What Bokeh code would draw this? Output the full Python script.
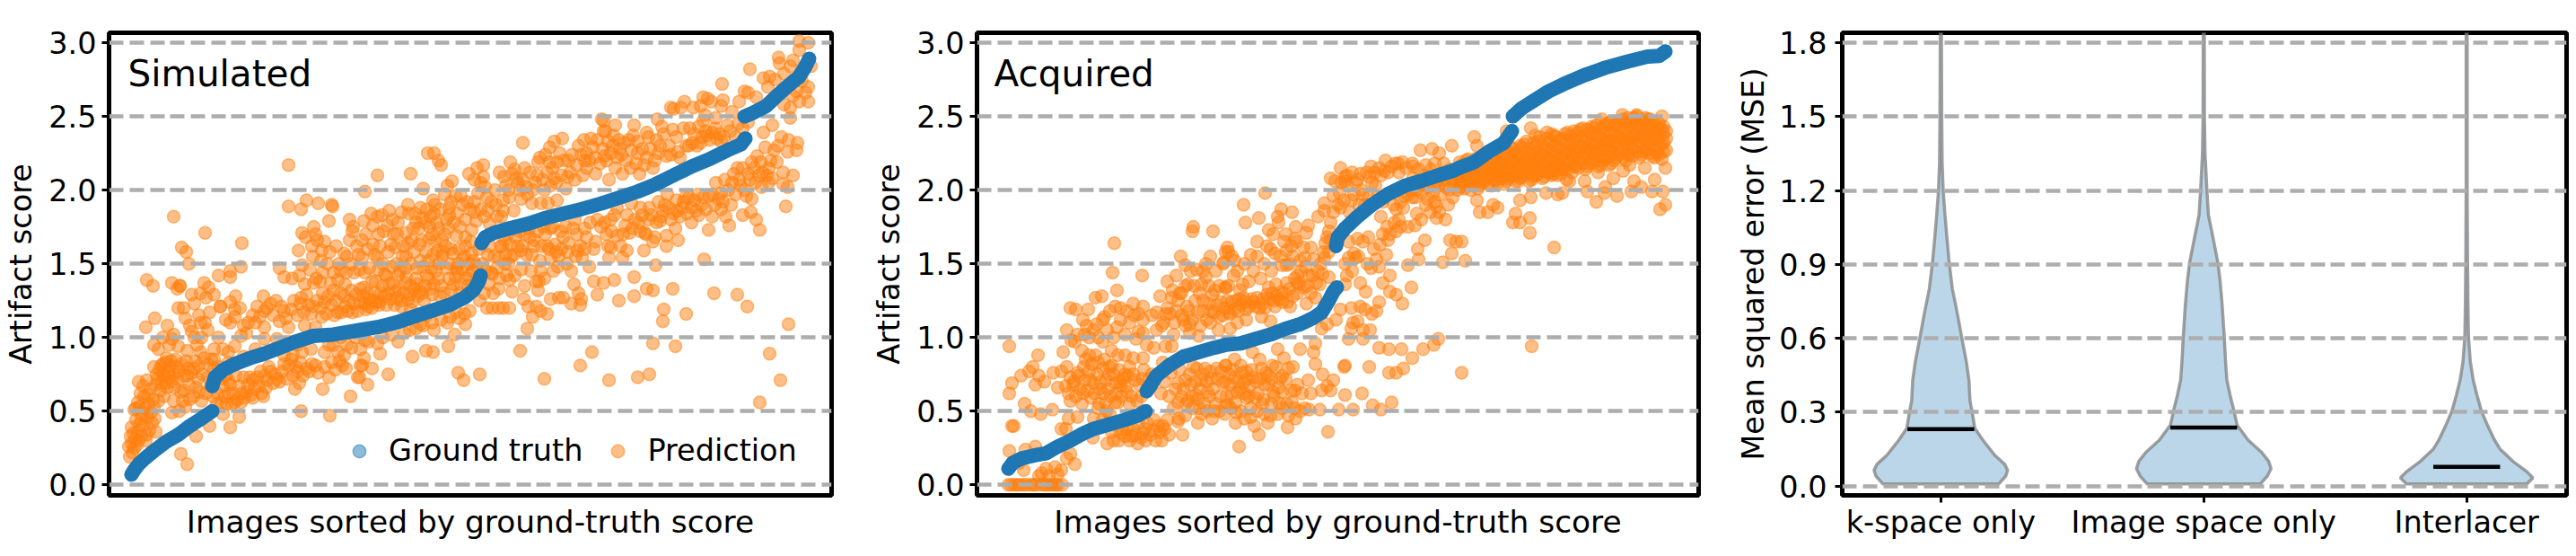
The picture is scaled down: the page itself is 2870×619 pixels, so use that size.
from bokeh.embed import file_html
from bokeh.resources import INLINE
from bokeh.plotting import figure
from bokeh.layouts import row
from bokeh.models import FixedTicker, Legend, LegendItem, Label, Range1d

score_ticks = [0.0, 0.5, 1.0, 1.5, 2.0, 2.5, 3.0]
score_labels = ["0.0", "0.5", "1.0", "1.5", "2.0", "2.5", "3.0"]
mse_ticks = [0.0, 0.3, 0.6, 0.9, 1.2, 1.5, 1.8]
mse_labels = ["0.0", "0.3", "0.6", "0.9", "1.2", "1.5", "1.8"]
methods = ["k-space only", "Image space only", "Interlacer"]
method_means = [0.231, 0.2375, 0.078]

# ----- Simulated: ground truth (rank, score), four runs
sim_truth_a = [(25,.07),(28,.10),(33,.14),(40,.18),(50,.23),(63,.29),(77,.34),(90,.40),(103,.45),(115,.50)]
sim_truth_b = [(115,.67),(118,.73),(127,.78),(140,.82),(157,.86),(173,.89),(190,.93),(207,.97),(227,1.01),(250,1.02),(279,1.05),
               (299,1.07),(319,1.10),(339,1.14),(359,1.18),(379,1.22),(396,1.27),(406,1.32),(412,1.38),(414,1.42)]
sim_truth_c = [(415,1.64),(419,1.68),(429,1.71),(446,1.74),(466,1.77),(486,1.81),(506,1.84),(526,1.87),(549,1.91),
               (569,1.95),(589,1.99),(609,2.04),(629,2.10),(649,2.16),(669,2.21),(689,2.27),(704,2.31),(709,2.35)]
sim_truth_d = [(708,2.50),(716,2.52),(732,2.57),(746,2.65),(757,2.71),(769,2.77),(776,2.84),(780,2.89)]

# ----- Simulated: predictions (rank, score)
sim_pred_left = [(72,1.82),(107,1.71),(148,1.64),(200,2.17),(200,1.89),(214,1.87),(220,1.93),(233,1.91),(248,1.90),(249,1.89),(245,1.79),(268,1.80),(272,1.75),(271,1.72),
(215,1.71),(219,1.68),(228,1.75),(230,1.70),(232,1.66),(237,1.59),(227,1.55),(211,1.59),(215,1.49),(265,1.55),(278,1.56),(81,1.61),(86,1.58),(89,1.50),(42,1.39),(49,1.35),
(70,1.37),(79,1.35),(79,1.35),(76,1.33),(106,1.37),(111,1.34),(122,1.42),(135,1.45),(135,1.41),(147,1.48),(190,1.47),(195,1.41),(204,1.40),(92,1.29),(102,1.30),(108,1.27),(117,1.29),
(95,1.23),(77,1.20),(83,1.20),(124,1.21),(124,1.21),(135,1.24),(141,1.28),(140,1.19),(146,1.20),(112,1.17),(41,1.07),(51,1.13),(90,1.08),(102,1.10),(107,1.10),(92,1.04),(72,1.02),(122,1.00),
(55,.92),(67,.95),(77,.94),(87,.91),(98,.95),(102,.90),(117,.92),(133,.90),
(23,.19),(25,.28),(28,.25),(25,.39),(28,.51),(30,.44),(32,.36),(33,.30),(37,.48),(38,.40),(42,.34),(43,.46),(48,.42),(52,.36),(35,.62),(33,.70),(32,.56),(38,.67),(42,.71),(43,.61),(50,.53),(52,.68),
(53,.75),(50,.80),(58,.81),(63,.83),(68,.81),(75,.80),(60,.75),(67,.73),(72,.75),(63,.69),(57,.64),(80,.63),(83,.64),(72,.57),(78,.50),(70,.49),(85,.53),(95,.79),(88,.79),(100,.81),(110,.82),(117,.79),
(87,.74),(97,.66),(103,.57),(112,.40),(97,.33),(135,.39),(80,.21),(87,.14),(145,.46),(127,.48),(113,.67),
(127,.67),(133,.71),(133,.62),(140,.56),(145,.67),(150,.73),(153,.63),(160,.71),(160,.59),(167,.67),(172,.60),(173,.74),(180,.77),(183,.69),(193,.77),(120,.55),(125,.56),(137,.55),(147,.56),
(207,.65),(212,.69),(238,.65),(269,.60),(214,.50),(246,.47),(200,.81),(210,.77),(203,.85),(213,.83),(223,.77),(230,.81),(245,.73),(248,.83),(257,.84),(260,.81),(277,.73),(280,.81),
(165,1.21),(172,1.28),(180,1.23),(173,1.18),(163,1.10),(173,1.07),(190,1.11),(200,1.07),(192,1.21),(203,1.19),(213,1.23),(220,1.29),(228,1.37),(235,1.38),(247,1.37),(255,1.39),(263,1.36),(270,1.32),
(217,1.17),(227,1.21),(237,1.14),(240,1.24),(248,1.22),(255,1.17),(263,1.21),(273,1.23),(280,1.33),(230,1.07),(147,1.01),(153,1.03),(173,.99),(187,.99),(127,.92),(140,.94),(150,.87),(163,.92),(117,.85),(133,.83),(103,1.00),(70,.99)]
sim_pred_mid = [(299,2.10),(336,2.11),(355,2.25),(362,2.25),(367,2.20),(370,2.17),(285,1.99),(350,2.01),(382,2.06),(377,2.03),(401,2.11),(410,2.15),(417,2.17),(407,2.07),(417,2.09),(414,2.05),(419,2.02),
(461,2.32),(491,2.29),(496,2.33),(505,2.35),(486,2.24),(478,2.19),(491,2.19),(499,2.19),(512,2.20),(529,2.34),(526,2.24),(532,2.25),(539,2.29),(549,2.48),(551,2.40),
(477,2.10),(452,2.14),(449,2.11),(461,2.07),(456,2.05),(442,2.03),(496,2.08),(492,2.03),(511,2.09),(519,2.07),(509,2.01),(532,2.15),(542,2.11),
(292,1.84),(299,1.82),(304,1.83),(284,1.79),(294,1.76),(286,1.70),(312,1.86),(326,1.85),(333,1.90),(347,1.88),(349,1.81),(361,1.93),(362,1.84),(374,1.97),(379,1.88),(386,1.96),(394,1.90),(407,1.92),(421,1.95),(422,1.86),(432,1.82),
(379,1.83),(342,1.78),(339,1.74),(357,1.75),(367,1.74),(374,1.70),(397,1.80),(407,1.85),(321,1.70),(331,1.71),(357,1.67),(387,1.69),(397,1.68),(314,1.63),(319,1.61),(294,1.63),(299,1.54),(331,1.55),
(366,1.59),(381,1.60),(347,1.52),(361,1.56),(372,1.58),(396,1.55),(404,1.57),(389,1.50),(282,1.54),
(439,1.93),(446,1.95),(459,1.94),(466,1.97),(471,1.91),(481,1.91),(489,1.91),(499,1.93),(439,1.86),(451,1.86),(519,1.80),(532,1.68),(542,1.65),(506,1.68),(512,1.64),(522,1.59),(527,1.54),(501,1.55),(492,1.54),(500,1.48),
(469,1.68),(471,1.56),(459,1.59),(451,1.56),(442,1.57),(434,1.54),(441,1.50),(422,1.56),(486,1.70),(492,1.74),
(307,1.43),(297,1.38),(284,1.34),(312,1.36),(322,1.42),(331,1.41),(342,1.40),(319,1.31),(307,1.28),(294,1.25),(286,1.19),(301,1.24),(326,1.21),(336,1.35),(344,1.28),(356,1.40),(362,1.36),(367,1.40),(351,1.25),(369,1.28),
(386,1.41),(392,1.36),(381,1.32),(402,1.50),(394,1.53),(426,1.44),(434,1.33),(446,1.39),(449,1.31),(434,1.20),(421,1.20),(427,1.20),(439,1.20),(446,1.20),(402,1.18),(396,1.16),(387,1.17),(427,1.43),
(481,1.45),(479,1.38),(478,1.32),(518,1.36),(523,1.30),(526,1.26),(492,1.26),(501,1.27),(506,1.27),(515,1.23),(525,1.22),(462,1.26),(467,1.21),(476,1.21),(481,1.18),(488,1.16),(472,1.14),(540,1.38),(544,1.29),
(466,1.06),(458,.91),(538,.90),(525,.81),(485,.72),(413,.75),(389,.76),(395,.71),(378,.94),(385,1.02),(397,1.09),(377,1.10),(362,1.05),(353,.91),(361,.90),(338,.87),(311,.75),(293,.79),(302,.89),(288,.68),(284,.86),(282,.81),(279,.73),
(289,.97),(299,.96),(322,.97),(329,1.03),(342,1.06),(347,1.09),(289,1.21),(301,1.22),(336,1.19),(354,1.15)]
sim_pred_right = [(714,2.82),(683,2.72),(729,2.76),(746,2.90),(747,2.86),(762,2.88),(769,3.01),(779,3.00),(769,2.95),(782,2.84),(736,2.77),(742,2.75),(752,2.79),(734,2.70),(759,2.84),(772,2.74),(779,2.70),(779,2.60),(769,2.60),(759,2.56),(759,2.49),(752,2.58),(762,2.64),(776,2.66),(766,2.67),
(708,2.67),(712,2.66),(721,2.63),(702,2.60),(694,2.53),(684,2.61),(682,2.57),(662,2.63),(667,2.62),(671,2.60),(641,2.60),(626,2.56),(629,2.55),(637,2.56),(651,2.56),(659,2.57),(664,2.51),(676,2.49),
(611,2.48),(616,2.43),(628,2.41),(585,2.44),(564,2.44),(553,2.40),(551,2.47),(599,2.39),(601,2.36),(647,2.42),(657,2.43),(662,2.47),(672,2.39),(677,2.35),(689,2.44),(666,2.37),(682,2.33),(646,2.30),(659,2.32),(568,2.34),(579,2.34),(589,2.33),(589,2.25),(561,2.30),(571,2.24),(599,2.22),(612,2.25),(624,2.30),(621,2.23),(636,2.22),(552,2.23),(564,2.15),(581,2.15),(572,2.11),(591,2.11),(606,2.15),(557,2.07),
(739,2.44),(729,2.39),(749,2.36),(757,2.34),(767,2.32),(756,2.26),(766,2.27),(744,2.19),(751,2.12),(762,2.10),(739,2.08),(751,2.04),(756,2.02),(754,1.89),
(722,2.23),(731,2.29),(716,2.19),(706,2.15),(696,2.11),(686,2.07),(712,2.11),(719,2.15),(726,2.19),(676,2.05),(702,2.07),(716,1.94),(727,2.02),
(642,1.95),(632,1.93),(652,1.93),(662,1.95),(672,1.97),(682,1.98),(622,1.97),(617,1.86),(629,1.84),(639,1.88),(649,1.88),(602,1.88),(592,1.88),(582,1.91),(566,1.88),(577,1.83),(559,1.80),(601,1.80),(614,1.79),(657,1.83),(649,1.78),(631,1.74),(672,1.82),(682,1.87),(687,1.82),(693,1.90),(668,1.73),(691,1.76),(706,1.83),(715,1.85),(721,1.80),(725,1.73),
(566,1.69),(580,1.71),(592,1.72),(597,1.71),(608,1.68),(606,1.65),(621,1.69),(634,1.66),(621,1.62),(559,1.61),(577,1.59),(596,1.59),(572,1.54),(557,1.54),(554,1.70),
(609,1.49),(663,1.53),(585,1.41),(563,1.39),(551,1.37),(599,1.33),(606,1.32),(628,1.33),(585,1.28),(568,1.25),(674,1.30),(700,1.29),(711,1.21),(618,1.19),(617,1.11),(643,1.16),(757,1.09),(606,.96),(631,.94),(736,.89),(602,.75),(589,.73),(557,.71),(748,.71),(725,.56)]
sim_pred_dense_low = [(22,.26),(24,.33),(26,.22),(27,.35),(29,.31),(30,.52),(31,.27),(34,.41),(34,.53),(36,.45),(36,.33),(39,.60),(40,.52),(41,.30),(44,.55),(45,.37),(46,.65),(47,.49),(49,.58),(51,.45),(54,.72),(55,.57),(56,.78),(58,.69),(60,.82),(61,.60),(62,.74),(64,.86),(65,.66),(66,.77),(69,.84),(70,.70),(73,.66),(74,.85),(76,.72),(78,.77),(81,.82),(82,.57),(84,.74),(86,.84),(89,.68),(90,.58),(92,.76),(94,.60),(96,.84),(99,.72),(101,.63),(104,.75),(106,.86),(108,.62),(110,.73),(114,.85),(116,.60),(118,.72),(121,.62),(122,.80),(125,.72),(129,.60),(130,.74),(131,.55),(135,.68),(138,.62),(141,.74),(143,.58),(148,.62),(151,.59),(155,.68),(157,.73),(158,.61),(162,.65),(165,.73),(169,.77),(170,.62),(175,.66),(176,.71),(178,.80),(185,.75),(187,.72),(190,.70),(195,.82),(198,.72),(205,.74),(208,.80),(216,.74),(220,.79),(226,.82),(233,.76),(240,.80),(252,.78),(264,.79)]
sim_pred_dense_mid = [(150,1.08),(155,1.10),(160,1.15),(168,1.14),(176,1.20),(183,1.15),(186,1.25),(195,1.18),(197,1.13),(206,1.25),(210,1.15),(214,1.27),(218,1.08),(222,1.22),(225,1.16),(232,1.25),(236,1.20),(238,1.30),(242,1.16),(244,1.28),(250,1.32),(251,1.15),(253,1.25),(258,1.30),(259,1.17),(262,1.28),(266,1.18),(268,1.25),(271,1.17),(275,1.29),(277,1.18),(280,1.24),(283,1.28),(285,1.23),(288,1.30),(290,1.26),(293,1.20),(296,1.30),(298,1.24),(303,1.30),(305,1.35),(309,1.22),(311,1.30),(314,1.26),(316,1.37),(318,1.22),(321,1.27),(323,1.33),(325,1.25),(328,1.30),(330,1.37),(333,1.26),(335,1.29),(338,1.24),(340,1.33),(343,1.36),(346,1.31),(349,1.30),(352,1.35),(354,1.42),(358,1.33),(360,1.29),(364,1.45),(370,1.35),(373,1.30),(376,1.47),(379,1.40),(384,1.36),(388,1.45),(391,1.30),(398,1.40),(400,1.35),(405,1.45),(409,1.49),(413,1.25),(416,1.50),(418,1.30),(423,1.36)]
sim_pred_dense_high = [(300,1.70),(306,1.72),(310,1.76),(316,1.80),(322,1.78),(328,1.62),(334,1.84),(337,1.66),(341,1.84),(345,1.74),(348,1.66),(352,1.78),(354,1.87),(358,1.82),(360,1.70),(363,1.90),(365,1.78),(369,1.87),(371,1.66),(376,1.80),(378,1.74),(381,1.92),(384,1.78),(388,1.84),(391,1.75),(392,1.96),(399,1.92),(402,1.87),(404,1.73),(409,1.79),(411,1.98),(414,1.87),(418,1.82),(424,1.77),(426,1.92),(429,1.55),(431,1.90),(436,1.62),(437,1.82),(441,1.66),(444,1.70),(447,1.63),(449,1.74),(453,1.68),(457,1.72),(461,1.62),(463,1.70),(468,1.74),(474,1.66),(477,1.72),(482,1.62),(484,1.75),(488,1.62),(494,1.75),(497,1.63),(503,1.72),(508,1.75),(511,1.58),(517,1.74),(521,1.70),(525,1.62),(530,1.74),(536,1.78),(540,1.60),(544,1.80),(548,1.75),(552,1.78),(556,1.62),(560,1.72),(563,1.83),(570,1.62),(573,1.70),(575,1.76),(583,1.74),(586,1.80),(590,1.78),(594,1.83),(598,1.70),(604,1.83),(610,1.78),(612,1.92),(615,1.82),(619,1.90),(624,1.88),(626,1.80),(633,1.86),(636,1.82),(640,1.92),(644,1.84),(646,1.95),(654,1.86),(656,1.97),(660,1.90),(665,1.87),(669,1.96),(675,1.90),(679,1.94),(684,1.92),(690,2.0),(694,2.05),(698,1.97),(704,2.03),(708,2.0),(710,1.96),(714,2.07),(720,2.05),(724,2.1),(728,2.12),(733,2.1),(735,2.15),(737,2.2),(741,2.27),(745,2.3)]
sim_pred_dense_top = [(430,2.0),(435,2.12),(440,2.09),(445,2.0),(447,2.19),(454,2.08),(458,2.0),(463,2.15),(465,2.02),(469,2.12),(472,2.0),(475,2.05),(480,2.22),(483,2.07),(485,2.0),(488,2.12),(494,2.15),(498,2.05),(502,2.25),(504,2.1),(507,2.2),(514,2.12),(516,2.24),(521,2.17),(523,2.3),(528,2.1),(530,2.2),(535,2.2),(537,2.35),(541,2.22),(544,2.34),(547,2.18),(550,2.28),(554,2.2),(556,2.33),(559,2.25),(562,2.37),(566,2.22),(569,2.28),(574,2.32),(576,2.2),(582,2.27),(584,2.37),(587,2.18),(594,2.28),(596,2.17),(603,2.28),(608,2.2),(610,2.34),(614,2.3),(618,2.38),(626,2.24),(632,2.36),(634,2.26),(640,2.42),(643,2.3),(650,2.32),(652,2.38),(655,2.3),(661,2.36),(665,2.4),(669,2.34),(675,2.42),(680,2.38),(685,2.36),(692,2.4),(698,2.36),(701,2.45),(706,2.42),(712,2.46),(735,2.05),(700,2.15)]
sim_pred_fill = [(212,1.42),(218,1.36),(224,1.46),(226,1.62),(231,1.40),(236,1.52),(238,1.44),(240,1.65),(243,1.50),(246,1.58),(250,1.44),(253,1.62),(256,1.50),(258,1.45),(262,1.57),(264,1.44),(268,1.66),(270,1.50),(273,1.44),(276,1.62),(279,1.46),(282,1.66),(285,1.44),(288,1.60),(290,1.47),(293,1.38),(296,1.56),(300,1.46),(302,1.62),(305,1.50),(309,1.42),(311,1.58),(315,1.48),(317,1.70),(320,1.50),(324,1.45),(327,1.55),(330,1.47),(333,1.64),(336,1.50),(340,1.58),(343,1.47),(346,1.63),(350,1.48),(353,1.58),(356,1.52),(359,1.47),(363,1.65),(368,1.50),(371,1.55),(375,1.62),(380,1.50),(383,1.57),(387,1.47),(390,1.60),(394,1.46),(397,1.62),(401,1.42),(403,1.65),(406,1.52),(410,1.40),(412,1.60),(420,1.45),(424,1.62),(428,1.30),(432,1.47),(435,1.40),(438,1.62),(443,1.42),(445,1.50),(448,1.55),(452,1.42),(455,1.62),(459,1.46),(463,1.35),(465,1.56),(470,1.45),(473,1.62),(476,1.38),(480,1.52),(485,1.40),(490,1.60),(495,1.45),(498,1.58),(504,1.60),(510,1.50),(515,1.45),(520,1.55),(530,1.60),(535,1.48),
(250,.95),(255,.90),(258,1.0),(265,.95),(270,.93),(275,1.0),(280,.92),(285,.98),(262,.88),(240,.90),(245,.95),(225,.92),(215,.90),(205,.88),(195,.88),(305,1.0),(315,1.02),(335,1.05),(350,1.08),(360,1.10),(370,1.12),(380,1.14),(390,1.13),(200,.97),(210,.95),(130,1.12),(135,1.1),(140,1.14),(100,1.15),(85,1.13),(95,1.0),(110,1.05),(60,1.0),(50,.95),(65,1.08)]

# ----- Acquired: ground truth (rank, score), four runs
acq_truth_a = [(35,.11),(40,.15),(50,.18),(64,.20),(77,.215),(90,.26),(104,.30),(117,.345),(130,.38),(147,.41),(164,.44),(179,.47),(188,.50)]
acq_truth_b = [(189,.635),(194,.68),(200,.74),(214,.81),(230,.87),(247,.90),(264,.93),(277,.95),(294,.96),(310,.99),(327,1.02),(344,1.06),(360,1.09),(374,1.13),(384,1.17),(392,1.25),(397,1.31),(401,1.34)]
acq_truth_c = [(400,1.62),(402,1.68),(410,1.74),(424,1.82),(440,1.90),(457,1.97),(477,2.03),(494,2.06),(514,2.10),(530,2.13),(537,2.15),(554,2.19),(570,2.26),(587,2.32),(596,2.40)]
acq_truth_d = [(597,2.50),(607,2.555),(620,2.605),(637,2.67),(654,2.72),(677,2.78),(700,2.83),(724,2.87),(747,2.905),(760,2.91),(767,2.94)]

# ----- Acquired: predictions (rank, score)
acq_pred_left = [(35,0),(42,0),(48,0),(55,0),(60,0),(66,0),(72,0),(78,0),(85,0),(90,0),(95,0),(38,0),(45,0),(52,0),(63,0),(75,0),(82,0),(88,0),
(36,.23),(39,.40),(41,.40),(52,.10),(47,.15),(65,.26),(54,.24),(72,.08),(69,.06),(77,.11),(87,.12),(94,.10),(100,.18),(109,.14),(104,.21),(90,.07),(80,.06),
(36,.94),(68,.88),(96,.90),(36,.62),(39,.69),(49,.74),(58,.77),(62,.80),(69,.74),(65,.68),(75,.70),(53,.55),(60,.50),(71,.48),(84,.51),(94,.38),(99,.38),(102,.45),(129,.32),(145,.28),
(85,.76),(94,.77),(100,.80),(104,.73),(112,.76),(119,.80),(90,.66),(104,.57),(99,.67),(107,.68),(115,.65),(120,.71),(125,.77),(132,.88),(135,.83),(140,.79),(147,.75),(130,.69),(137,.65),(144,.71),(150,.81),(154,.69),(127,.59),(117,.55),(112,.46),
(109,.97),(117,.91),(125,.88),(140,.97),(150,.91),(157,.88),(165,.88),(174,.86),(185,.86),(197,.93),(189,.95),(177,.99),(185,1.03),(219,1.02),(217,.94),(210,.94),(207,.83),(165,.75),(174,.75),(184,.72),(167,.63),(160,.67),(157,.56),(170,.55),
(167,.38),(179,.28),(174,.38),(187,.38),(197,.44),(207,.40),(214,.34),(224,.43),(229,.34),(204,.36),(160,.35),(150,.36),
(104,1.20),(110,1.19),(124,1.19),(132,1.27),(139,1.28),(154,1.21),(167,1.18),(174,1.23),(185,1.21),(180,1.16),(160,1.20),(142,1.14),(133,1.09),(122,1.08),(120,1.02),(151,1.44),(153,1.64),(184,1.42),(156,1.32),
(204,1.28),(217,1.27),(210,1.16),(215,1.16),(224,1.25),(234,1.21),(230,1.12),(237,1.09),(237,1.03),(240,1.72),(241,1.75),(263,1.72),(227,1.55),(232,1.49),(245,1.46),(255,1.50),(255,1.41),(250,1.36),(235,1.36),(265,1.32),(262,1.29),(277,1.58),(275,1.51),
(252,1.18),(264,1.17),(274,1.15),(247,1.01),(260,1.10),(269,1.05),(277,1.34),
(224,.69),(230,.65),(224,.56),(237,.75),(245,.79),(250,.71),(254,.79),(260,.77),(267,.79),(277,.81),(244,.61),(257,.63),(264,.50),(274,.69),(250,.48),(246,.42),(277,.54),(235,.57)]
acq_pred_mid = [(321,1.98),(297,1.90),(299,1.78),(314,1.81),(339,1.87),(351,1.85),(335,1.82),(336,1.78),(325,1.73),(330,1.70),(312,1.65),(344,1.70),(355,1.75),(369,1.76),(367,1.71),(354,1.67),(350,1.62),(345,1.59),(327,1.60),(332,1.57),(305,1.56),(279,1.61),(280,1.58),(287,1.52),(286,1.42),(296,1.36),(277,1.34),(325,1.34),
(340,1.49),(345,1.49),(357,1.42),(364,1.61),(372,1.61),(365,1.54),(375,1.53),(387,1.54),(392,1.58),(374,1.42),(385,1.43),(392,1.41),(345,1.37),(357,1.37),(364,1.34),(357,1.30),(382,1.36),(377,1.27),(367,1.23),(349,1.21),(340,1.24),(332,1.21),(319,1.26),(310,1.21),(300,1.19),(292,1.26),(287,1.19),(280,1.17),(317,1.14),(300,1.12),(290,1.10),(327,1.11),(282,1.06),
(387,1.86),(380,1.82),(392,1.72),(394,2.08),(405,2.15),(439,2.16),(427,2.11),(412,2.10),(399,2.06),(410,2.06),(437,2.09),(450,2.10),(455,2.20),(469,2.18),(474,2.19),(485,2.18),(494,2.27),(507,2.28),(515,2.25),(529,2.30),(397,1.96),(404,1.98),(387,1.91),(397,1.85),(405,1.88),(394,1.78),(420,1.97),(430,1.97),(410,2.09),(424,2.07),(444,2.03),(417,1.93),
(467,1.87),(490,1.84),(488,1.76),(450,1.82),(457,1.75),(467,1.72),(472,1.75),(436,1.68),(424,1.67),(414,1.65),(449,1.63),(458,1.66),(456,1.56),(445,1.53),(439,1.47),(420,1.57),(414,1.54),(422,1.54),(499,1.66),(491,1.60),(492,1.53),(480,1.49),(519,1.51),(527,1.66),(534,1.65),(529,1.57),(512,1.89),(522,1.80),(512,1.81),
(412,1.42),(410,1.36),(427,1.37),(433,1.31),(460,1.42),(452,1.37),(460,1.31),(467,1.29),(484,1.34),(474,1.23),(448,1.24),(405,1.19),(417,1.20),(427,1.21),(432,1.19),(440,1.16),(445,1.18),(419,1.10),(424,1.11),(417,1.06),(430,1.05),(438,1.05),(414,.99),(430,.99),(400,1.12),(390,1.09),(384,1.06),
(448,.93),(459,.92),(473,.92),(497,.92),(509,.95),(514,.99),(485,.86),(475,.79),(467,.76),(459,.76),(437,.80),(409,.80),(410,.81),(429,.62),(410,.61),(462,.56),(441,.54),(450,.51),(419,.51),(403,.51),(391,.36),
(377,.96),(375,.90),(377,.82),(385,.75),(397,.71),(390,.67),(394,.64),(384,.64),(372,.62),(362,.62),(354,.64),(369,.71),(357,.68),(360,.92),(382,.51),(370,.51),(365,.52),(354,.52),(346,.39),(347,.47),(337,.55),(327,.47),(320,.48),(314,.34),(309,.40),(305,.46),(292,.26),(289,.49),(310,.59),(330,.63),(340,.63),(320,.68),(347,.79),(340,.74),(342,.86),(335,.92),(307,.90),(315,.85),(329,.81),
(277,.81),(287,.85),(294,.81),(300,.77),(287,.73),(282,.68),(297,.69),(307,.73),(290,.63),(304,.67),(317,.79),(324,.74),(300,.59),(280,.54)]
acq_pred_right = [(540,1.65),(617,2.42),(622,2.37),(635,2.39),(554,2.36),(557,2.30),(590,2.40),(544,1.52),(540,.76),(618,.94),(643,1.61),(616,1.71),(616,1.81),(600,1.84),(597,1.78),(605,1.78),(560,1.85),(569,1.85),(580,1.88),(575,1.90),(557,1.93),(605,1.93),(617,1.95),(634,1.98),(647,1.97),(652,1.98),(657,2.07),(660,2.06),(677,2.06),(680,1.99),(690,1.92),(699,1.98),(700,2.02),(709,2.08),(713,1.96),(720,2.13),(729,1.99),(732,2.06),(727,2.17),(740,2.02),(752,1.99),(755,2.07),(764,1.99),(761,1.87),(767,1.90),(767,2.15),(744,2.15),(696,2.48),(719,2.51),(735,2.51),(763,2.50),(642,2.11),(692,2.12),(704,2.17)]
acq_pred_dense_low = [(102,.62),(108,.70),(110,.60),(113,.74),(118,.62),(121,.85),(123,.64),(126,.71),(128,.82),(131,.62),(134,.75),(136,.55),(138,.70),(141,.62),(142,.85),(143,.56),(146,.65),(148,.80),(149,.60),(152,.75),(154,.56),(155,.62),(158,.78),(159,.70),(161,.60),(163,.72),(166,.67),(168,.74),(170,.80),(172,.60),(176,.71),(178,.57),(181,.68),(183,.60),(186,.78),(190,.66),(192,.72),(130,.45),(135,.52),(140,.44),(144,.50),(148,.48),(152,.30),(155,.42),(158,.30),(162,.38),(165,.33),(170,.30),(173,.33),(176,.34),(180,.42),(183,.32),(185,.35),(188,.30),(190,.42),(193,.34),(196,.37),(199,.30),(202,.40),(206,.30),(209,.38),(212,.44)]
acq_pred_dense_mid = [(195,.75),(205,.62),(209,.70),(214,.60),(216,.76),(219,.52),(221,.65),(226,.78),(228,.60),(232,.71),(233,.55),(238,.68),(240,.60),(241,.80),(243,.70),(246,.58),(248,.65),(252,.75),(253,.55),(256,.70),(259,.60),(261,.72),(263,.65),(266,.55),(268,.72),(271,.60),(272,.77),(276,.70),(278,.60),(281,.75),(284,.62),(285,.78),(288,.56),(291,.70),(293,.65),(295,.76),(298,.62),(301,.72),(303,.60),(306,.78),(311,.70),(313,.62),(316,.72),(319,.58),(322,.76),(325,.68),(328,.72),(331,.60),(333,.80),(336,.66),(338,.72),(344,.72),(350,.64),(352,.80),
(200,1.05),(208,1.10),(212,1.20),(220,1.10),(222,1.18),(226,1.30),(228,1.15),(232,1.08),(236,1.18),(240,1.12),(243,1.25),(246,1.17),(249,1.08),(252,1.25),(256,1.12),(258,1.23),(261,1.18),(267,1.22),(270,1.14),(272,1.24),(276,1.20),(279,1.25),(282,1.16),(284,1.24),(288,1.25),(291,1.18),(294,1.22),(297,1.27),(299,1.24),(303,1.21),(306,1.26),(308,1.24),(312,1.27),(315,1.20),(318,1.23),(321,1.20),(323,1.29),(326,1.26),(329,1.30),(331,1.25),(334,1.28),(337,1.26),(339,1.31),(342,1.30),(346,1.24),(348,1.33),(352,1.28),(354,1.40),(359,1.36),(361,1.45),(366,1.48),(368,1.35),(370,1.42),(372,1.30),(378,1.37),(380,1.45),(383,1.50),(386,1.58),(388,1.64),(390,1.68),(394,1.66)]
acq_pred_dense_high = [(402,1.90),(406,2.05),(409,1.93),(413,2.03),(415,1.85),(418,2.12),(420,1.80),(422,2.05),(426,1.90),(428,2.00),(432,1.90),(434,2.12),(436,1.95),(440,2.05),(443,2.12),(446,1.95),(448,2.15),(452,1.92),(454,2.13),(458,2.12),(462,2.16),(464,1.90),(466,2.18),(470,2.12),(472,1.92),(476,1.96),(478,2.15),(480,1.97),(483,2.00),(486,2.16),(488,1.95),(490,2.0),(492,2.14),(495,1.98),(497,2.03),(500,2.17),(502,1.94),(504,2.02),(506,2.14),(508,1.98),(510,2.18),(512,2.05),(516,1.97),(518,2.07),(520,2.18),(522,2.02),(524,2.12),(526,2.0),(528,2.08),(531,2.03),(533,2.12),(535,2.0),(538,2.09),(540,2.03),(486,2.08),(492,2.05),(498,2.10),(503,2.08),(509,2.04),(514,2.03),(519,2.12),(523,2.07),(527,2.14),(532,2.08),(536,2.15),(541,2.10)]
acq_pred_fill = [(100,1.05),(105,.98),(112,1.02),(118,1.12),(125,1.0),(130,1.05),(135,1.0),(140,1.12),(145,1.05),(148,1.18),(152,1.0),(156,1.07),(160,1.12),(165,1.02),(170,1.1),(175,1.15),(180,1.04),(185,1.12),(195,1.15),(200,1.17),(206,1.08),
(212,1.38),(218,1.32),(222,1.42),(228,1.30),(232,1.35),(238,1.45),(242,1.35),(248,1.30),(252,1.45),(258,1.35),(260,1.55),(266,1.45),(270,1.35),(274,1.50),(280,1.35),(284,1.55),(290,1.45),(293,1.32),(298,1.50),(303,1.38),(308,1.45),(312,1.55),(316,1.40),(320,1.50),(323,1.62),(328,1.45),(333,1.36),(338,1.55),(342,1.65),(348,1.50),(352,1.55),(356,1.65),(360,1.52),
(225,.45),(232,.47),(240,.52),(248,.52),(256,.50),(262,.45),(270,.50),(276,.48),(283,.52),(288,.42),(294,.50),(298,.45),(305,.52),(312,.50),(318,.55),(324,.42),(328,.55),(335,.48),(340,.52),(345,.55),(351,.56),(355,.45),(360,.50),
(410,1.5),(418,1.45),(425,1.55),(430,1.65),(435,1.50),(442,1.60),(448,1.48),(452,1.7),(460,1.70),(465,1.78),(470,1.80),(475,1.88),(480,1.75),(485,1.95),(495,1.80),(500,1.90),(505,1.85),(510,1.92),(515,1.85),(525,1.90),(530,1.95)]
acq_band_ranks = [540,545,550,555,560,565,570,575,580,585,590,595,600,605,610,615,620,625,630,635,640,645,650,655,660,665,670,675,680,685,690,695,700,705,710,715,720,725,730,735,740,745,750,755,760,765]
acq_band_scores = [[2.02,2.07,2.12,2.17,2.10],[2.05,2.10,2.14,2.20],[2.00,2.08,2.13,2.18],[2.04,2.09,2.16,2.21],[2.03,2.07,2.12,2.17,2.22],[2.06,2.11,2.15,2.24],[2.04,2.09,2.14,2.19,2.23],[2.07,2.12,2.17,2.21],[2.05,2.10,2.15,2.20,2.26],[2.08,2.13,2.18,2.23],
[2.06,2.11,2.16,2.21,2.27],[2.09,2.14,2.19,2.24,2.29],[2.06,2.10,2.15,2.20,2.25],[2.08,2.13,2.18,2.23,2.30],[2.10,2.15,2.20,2.26,2.31],[2.06,2.12,2.17,2.22,2.28],[2.09,2.14,2.19,2.25,2.32],[2.11,2.16,2.21,2.27,2.33],[2.08,2.13,2.18,2.24,2.30],[2.12,2.17,2.22,2.28,2.35],
[2.10,2.15,2.20,2.26,2.32,2.38],[2.13,2.18,2.24,2.30,2.36],[2.11,2.16,2.22,2.28,2.34],[2.14,2.19,2.25,2.31,2.38],[2.15,2.20,2.26,2.32,2.37],[2.17,2.22,2.28,2.34,2.40],[2.15,2.21,2.27,2.33,2.39],[2.18,2.24,2.30,2.36,2.42],[2.16,2.22,2.28,2.34,2.41],[2.19,2.25,2.31,2.37,2.43],
[2.20,2.26,2.32,2.38,2.44],[2.17,2.23,2.29,2.35,2.41],[2.21,2.27,2.33,2.39,2.45],[2.23,2.28,2.34,2.40,2.46],[2.20,2.26,2.32,2.38,2.44],[2.24,2.30,2.36,2.42,2.47],[2.22,2.28,2.34,2.40,2.48],[2.25,2.31,2.37,2.43,2.49],[2.23,2.29,2.35,2.41,2.46],[2.26,2.32,2.38,2.44,2.50],
[2.24,2.30,2.36,2.42,2.47],[2.27,2.33,2.39,2.45,2.49],[2.25,2.31,2.37,2.43,2.48],[2.22,2.28,2.34,2.40,2.46],[2.24,2.30,2.36,2.42,2.45],[2.26,2.32,2.38,2.43]]
acq_band2_ranks = [538,543,547,552,558,563,567,573,578,583,587,592,598,603,607,612,618,623,627,632,638,643,647,652,658,663,667,672,678,683,687,692,698,703,707,712,718,723,727,732,738,743,747,752,758,763,768]
acq_band2_scores = [[2.04,2.11,2.19],[2.01,2.08,2.16],[2.06,2.13,2.21],[2.03,2.10,2.19],[2.01,2.09,2.18],[2.05,2.13,2.20],[2.08,2.16,2.25],[2.03,2.11,2.19],[2.07,2.14,2.24],[2.09,2.17,2.27],
[2.04,2.12,2.20],[2.08,2.15,2.26],[2.11,2.18,2.28],[2.06,2.14,2.22],[2.09,2.17,2.29],[2.12,2.19,2.33],[2.07,2.16,2.24],[2.10,2.20,2.30],[2.13,2.23,2.36],[2.09,2.18,2.27],[2.12,2.21,2.33],[2.15,2.25,2.37],[2.10,2.19,2.29],[2.14,2.23,2.35],[2.17,2.27,2.39],
[2.12,2.24,2.31],[2.16,2.25,2.37],[2.19,2.29,2.41],[2.14,2.26,2.33],[2.18,2.27,2.39],[2.21,2.30,2.42],[2.16,2.28,2.36],[2.20,2.31,2.43],[2.23,2.33,2.45],[2.18,2.30,2.38],[2.22,2.32,2.44],[2.25,2.35,2.47],[2.20,2.33,2.41],[2.24,2.34,2.46],[2.27,2.37,2.49],[2.22,2.33,2.43],[2.26,2.36,2.46],[2.28,2.39,2.48],[2.23,2.35,2.44],[2.25,2.34,2.42],[2.21,2.31,2.41],[2.27,2.35,2.40]]

# ----- Violins: (MSE, half width in category units), read bottom to top
kspace_profile = [(.008,.22),(.04,.247),(.064,.254),(.088,.243),(.125,.205),(.186,.16),(.235,.129),(.296,.12),(.345,.111),(.43,.107),(.505,.097),(.606,.079),(.676,.067),(.737,.056),(.8,.044),(.906,.032),(1.01,.023),(1.1,.016),(1.2,.009),(1.315,.005),(1.5,.0035),(1.9,.002)]
image_profile = [(.008,.215),(.04,.242),(.07,.256),(.10,.247),(.137,.22),(.186,.169),(.247,.127),(.305,.115),(.37,.10),(.43,.088),(.505,.083),(.606,.078),(.737,.07),(.835,.062),(.906,.054),(1.01,.035),(1.1,.018),(1.2,.012),(1.35,.005),(1.5,.0026),(1.9,.002)]
inter_profile = [(.008,.229),(.033,.252),(.058,.229),(.10,.176),(.15,.127),(.186,.106),(.247,.079),(.305,.056),(.37,.039),(.43,.025),(.505,.014),(.606,.007),(.737,.005),(.906,.0035),(1.2,.002),(1.9,.002)]

BLUE, ORANGE, GRID = "#1f77b4", "#ff7f0e", "#adadad"
FONT = "DejaVu Sans"
TICK_PX, XLABEL_PX = "33.5px", "34.4px"

def base(width, left, right, xr, yr, yticks, ylabels, ylabel):
    p = figure(width=width, height=603, x_range=Range1d(*xr), y_range=Range1d(*yr),
               output_backend="svg", toolbar_location=None,
               min_border_left=left, min_border_right=right, min_border_top=36, min_border_bottom=52)
    p.outline_line_color = "black"
    p.outline_line_width = 5
    p.outline_line_alpha = 1
    p.background_fill_color = "white"
    p.xgrid.visible = False
    p.ygrid.ticker = FixedTicker(ticks=yticks)
    p.ygrid.grid_line_color = GRID
    p.ygrid.grid_line_width = 4.5
    p.ygrid.grid_line_dash = "16 7 16 7 16 6"
    p.ygrid.level = "underlay"
    ax = p.yaxis[0]
    ax.ticker = FixedTicker(ticks=yticks)
    ax.major_label_overrides = dict(zip(yticks, ylabels))
    ax.axis_label = ylabel
    for a in (p.xaxis[0], ax):
        a.axis_line_color = None
        a.minor_tick_line_color = None
        a.major_tick_line_color = "black"
        a.major_tick_line_width = 3
        a.major_tick_in = 0
        a.major_tick_out = 8
        a.major_label_text_font = FONT
        a.major_label_text_font_size = TICK_PX
        a.major_label_text_color = "black"
        a.axis_label_text_font = FONT
        a.axis_label_text_font_size = "33.5px"
        a.axis_label_text_font_style = "normal"
        a.axis_label_text_color = "black"
    ax.major_label_standoff = 6
    ax.axis_label_standoff = 8
    return p

def scatter_panel(width, left, right, xr, truth_runs, preds, name, name_rank, legend):
    p = base(width, left, right, xr, (-0.0713, 3.067), score_ticks, score_labels, "Artifact score")
    p.xaxis[0].ticker = FixedTicker(ticks=[])
    p.xaxis[0].axis_label = "Images sorted by ground-truth score"
    p.xaxis[0].axis_label_text_font_size = XLABEL_PX
    p.xaxis[0].axis_label_standoff = 9
    px = [a for a, b in preds]
    py = [b for a, b in preds]
    r_pred = p.scatter(px, py, size=14, fill_color=ORANGE, fill_alpha=0.5, line_color=ORANGE,
                       line_alpha=0.5, line_width=1.5, level="underlay")
    r_truth = None
    for run in truth_runs:
        tx = [a for a, b in run]
        ty = [b for a, b in run]
        p.line(tx, ty, line_color=BLUE, line_width=16, line_cap="round", line_join="round")
        r_truth = p.scatter(tx, ty, size=14, fill_color=BLUE, fill_alpha=0.5, line_color=BLUE, line_alpha=0.5, line_width=1.5)
    p.add_layout(Label(x=name_rank, y=2.79, text=name, text_font=FONT, text_font_size="40.5px",
                       text_color="black", text_baseline="alphabetic"))
    if legend:
        leg = Legend(items=[LegendItem(label="Ground truth", renderers=[r_truth]),
                            LegendItem(label="Prediction", renderers=[r_pred])],
                     orientation="horizontal", location=(261, 30), border_line_color=None,
                     background_fill_alpha=0, padding=0, margin=0, spacing=21, glyph_width=36, glyph_height=36,
                     label_standoff=15, label_text_font=FONT, label_text_font_size=TICK_PX, label_text_color="black")
        p.add_layout(leg, "center")
    return p

band = [(r, s) for r, col in zip(acq_band_ranks, acq_band_scores) for s in col]
band2 = [(r, s) for r, col in zip(acq_band2_ranks, acq_band2_scores) for s in col]
p1 = scatter_panel(960, 121, 34, (0, 805), [sim_truth_a, sim_truth_b, sim_truth_c, sim_truth_d],
                   sim_pred_left + sim_pred_mid + sim_pred_right + sim_pred_dense_low + sim_pred_dense_mid + sim_pred_dense_high + sim_pred_dense_top + sim_pred_fill,
                   "Simulated", 21, True)
p2 = scatter_panel(960, 128, 28, (0, 804), [acq_truth_a, acq_truth_b, acq_truth_c, acq_truth_d],
                   acq_pred_left + acq_pred_mid + acq_pred_right + acq_pred_dense_low + acq_pred_dense_mid + acq_pred_dense_high + acq_pred_fill + band + band2,
                   "Acquired", 19, False)

p3 = base(946, 132, 7, (0.625, 3.38), (-0.0383, 1.841), mse_ticks, mse_labels, "Mean squared error (MSE)")
p3.yaxis[0].major_label_standoff = 9
p3.yaxis[0].axis_label_standoff = 6
p3.xaxis[0].ticker = FixedTicker(ticks=[1, 2, 3])
p3.xaxis[0].major_label_overrides = {1: methods[0], 2: methods[1], 3: methods[2]}
p3.xaxis[0].major_label_standoff = 2
for c, prof in zip([1, 2, 3], [kspace_profile, image_profile, inter_profile]):
    ys = [a for a, b in prof]
    hw = [b for a, b in prof]
    xs = [c - h for h in hw] + [c + h for h in reversed(hw)]
    yy = ys + list(reversed(ys))
    p3.patch(xs, yy, fill_color=BLUE, fill_alpha=0.3, line_color="#808080", line_alpha=0.75, line_width=3.5, level="underlay")
p3.segment([c - .127 for c in [1, 2, 3]], method_means, [c + .127 for c in [1, 2, 3]], method_means,
           line_color="black", line_width=4.5, line_cap="butt")

layout = row(p1, p2, p3, spacing=0)
open("out.html", "w").write(file_html(layout, INLINE))
